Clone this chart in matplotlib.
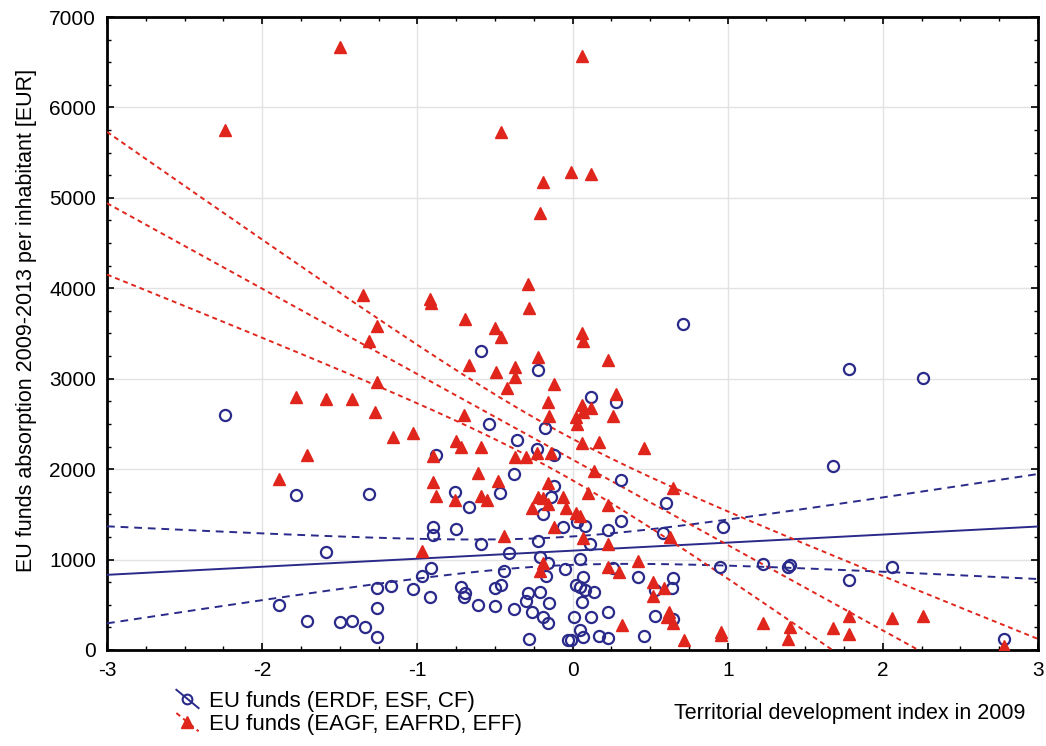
import numpy as np
import matplotlib.pyplot as plt
from matplotlib.ticker import MultipleLocator
from matplotlib.lines import Line2D
from matplotlib.legend_handler import HandlerBase

plt.rcParams['font.family'] = ['Liberation Sans', 'DejaVu Sans']
plt.rcParams['axes.unicode_minus'] = False

# EU funds (ERDF, ESF, CF): territorial development index vs. absorption per inhabitant
tdi_erdf = [0.71, 1.78, 2.26, -0.59, -0.22, -2.24, -0.54, -0.18, -0.36, -0.23, -0.12, -0.88,
            0.12, 0.28, 1.68, -0.38, -0.12, -0.14, -0.76, -0.47, -1.78, -1.31, -0.67, -0.19,
            0.31, 0.60, -0.90, -0.90, -0.75, -0.06, 0.03, 0.08, 0.23, 0.31, 0.97, 0.58,
            -0.59, -0.22, 0.11, -1.59, -0.41, -0.21, -0.16, 0.05, -0.05, 0.26, -0.44, -0.91,
            -0.97, -0.17, 0.95, 1.23, 1.39, 1.40, 2.06, 1.78, 0.07, 0.02, 0.05, 0.08,
            0.14, 0.42, 0.65, 0.53, 0.64, -1.26, -1.17, -1.03, -0.72, -0.69, -0.70, -0.50,
            -0.46, -0.92, -0.29, -0.21, -0.30, -0.15, -0.61, -0.50, -0.38, -0.26, -1.26, -1.89,
            -0.19, -0.16, 0.06, 0.01, 0.12, 0.23, 0.53, 0.65, -1.71, -1.50, -1.42, -1.34,
            -1.26, -0.28, -0.03, 0.05, -0.01, 0.07, 0.17, 0.23, 0.46, 2.78]
eur_erdf = [3605, 3110, 3010, 3305, 3095, 2600, 2500, 2455, 2320, 2225, 2155, 2155,
            2800, 2745, 2035, 1945, 1815, 1690, 1750, 1735, 1715, 1725, 1580, 1505,
            1880, 1625, 1360, 1270, 1340, 1360, 1415, 1370, 1325, 1425, 1360, 1295,
            1170, 1205, 1170, 1085, 1075, 1030, 960, 1005, 895, 905, 875, 905,
            820, 820, 920, 950, 920, 935, 920, 775, 805, 720, 695, 665,
            640, 805, 795, 665, 685, 685, 710, 675, 695, 630, 585, 685,
            720, 585, 630, 640, 540, 520, 500, 485, 455, 420, 465, 500,
            365, 300, 530, 365, 365, 420, 375, 345, 320, 310, 320, 255,
            145, 120, 110, 220, 110, 145, 155, 135, 155, 120]

# EU funds (EAGF, EAFRD, EFF)
tdi_eagf = [-1.50, 0.06, -2.24, -0.46, -0.01, 0.12, -0.19, -0.21, -0.29, -0.28, -1.35, -0.92,
            -0.91, -0.69, -0.50, -0.46, -1.26, -1.31, -0.22, -0.67, -0.49, -0.37, -0.37, -0.42,
            -0.12, -1.26, -1.78, -1.59, -1.42, -1.27, -1.16, -1.03, -1.71, -1.89, -0.70, -0.16,
            -0.15, -0.75, -0.72, -0.59, -0.90, -0.37, -0.30, -0.23, -0.14, -0.61, -0.90, -0.48,
            -0.16, -0.88, -0.76, -0.59, -0.55, -0.22, -0.19, -0.16, -0.06, -0.26, -0.04, -0.12,
            -0.44, -0.97, -0.19, -0.21, 0.06, 0.07, 0.23, 0.28, 0.06, 0.07, 0.12, 0.02,
            0.03, 0.26, 0.06, 0.17, 0.46, 0.14, 0.65, 0.10, 0.23, 0.02, 0.05, 0.07,
            0.23, 0.63, 0.42, 0.23, 0.30, 0.52, 0.59, 0.52, 0.62, 0.61, 0.65, 0.32,
            0.72, 0.96, 0.96, 1.23, 1.40, 1.39, 1.68, 1.78, 1.78, 2.06, 2.26, 2.78]
eur_eagf = [6670, 6570, 5750, 5730, 5290, 5265, 5175, 4835, 4050, 3785, 3925, 3880,
            3840, 3660, 3560, 3460, 3580, 3420, 3240, 3150, 3075, 3130, 3020, 2900,
            2940, 2965, 2800, 2775, 2775, 2630, 2355, 2400, 2155, 1890, 2600, 2745,
            2590, 2310, 2245, 2245, 2145, 2135, 2135, 2180, 2180, 1960, 1860, 1870,
            1845, 1705, 1660, 1705, 1660, 1690, 1680, 1615, 1690, 1570, 1570, 1360,
            1260, 1095, 960, 875, 3505, 3420, 3205, 2830, 2710, 2630, 2675, 2575,
            2500, 2590, 2290, 2300, 2235, 1980, 1790, 1735, 1605, 1515, 1480, 1240,
            1170, 1250, 985, 920, 865, 750, 685, 600, 420, 365, 300, 275,
            110, 200, 165, 300, 255, 120, 245, 375, 175, 355, 375, 45]

BLUE = '#2a2a8a'
RED = '#e0261c'


def fit_band(x, y, xs):
    # linear fit with 95% confidence band for the mean
    x = np.asarray(x, float)
    y = np.asarray(y, float)
    b, a = np.polyfit(x, y, 1)
    n = len(x)
    s = np.sqrt(np.sum((y - (a + b * x)) ** 2) / (n - 2))
    sxx = np.sum((x - x.mean()) ** 2)
    hw = 1.98 * s * np.sqrt(1 / n + (xs - x.mean()) ** 2 / sxx)
    yf = a + b * xs
    return yf, yf - hw, yf + hw


class DiagHandler(HandlerBase):
    # Statistica-style legend key: slanted line with the marker in the middle
    def create_artists(self, legend, orig_handle, xdescent, ydescent,
                       width, height, fontsize, trans):
        line = Line2D([0, width], [height + 1, -1])
        line.update_from(orig_handle)
        line.set_marker('None')
        mk = Line2D([width / 2], [height / 2])
        mk.update_from(orig_handle)
        mk.set_linestyle('None')
        line.set_transform(trans)
        mk.set_transform(trans)
        return [line, mk]


fig = plt.figure(figsize=(10.46, 7.46), dpi=100)
ax = fig.add_axes([0.1023, 0.1287, 0.8901, 0.8485])

xs = np.linspace(-3, 3, 300)

yb, lb, ub = fit_band(tdi_erdf, eur_erdf, xs)
ax.plot(xs, yb, color=BLUE, lw=1.4, zorder=3)
ax.plot(xs, lb, color=BLUE, lw=1.4, ls=(0, (4, 3)), zorder=3)
ax.plot(xs, ub, color=BLUE, lw=1.4, ls=(0, (4, 3)), zorder=3)

yr, lr, ur = fit_band(tdi_eagf, eur_eagf, xs)
for yy in (yr, lr, ur):
    ax.plot(xs, yy, color=RED, lw=1.4, ls=(0, (2.5, 2)), zorder=3)

ax.plot(tdi_erdf, eur_erdf, 'o', ms=8, mfc='none', mec=BLUE, mew=1.6, zorder=4)
ax.plot(tdi_eagf, eur_eagf, '^', ms=8.5, color=RED, mec=RED, zorder=5)

ax.set_xlim(-3, 3)
ax.set_ylim(0, 7000)
ax.xaxis.set_major_locator(MultipleLocator(1))
ax.xaxis.set_minor_locator(MultipleLocator(0.25))
ax.yaxis.set_major_locator(MultipleLocator(1000))
ax.yaxis.set_minor_locator(MultipleLocator(250))
ax.tick_params(which='both', direction='in', top=True, right=True, color='black')
ax.tick_params(which='major', length=5, width=1.2, labelsize=15, pad=8)
ax.tick_params(which='minor', length=3, width=1)
ax.grid(True, which='major', color='#e2e2e2', lw=1)
ax.set_axisbelow(True)
for sp in ax.spines.values():
    sp.set_linewidth(2)

ax.set_ylabel('EU funds absorption 2009-2013 per inhabitant [EUR]', fontsize=15.5)
ax.yaxis.set_label_coords(-0.075, 0.52)
ax.set_xlabel('Territorial development index in 2009', fontsize=15.5, loc='right')
ax.xaxis.set_label_coords(0.986, -0.084)

handles = [
    Line2D([], [], color=BLUE, lw=1.4, marker='o', ms=7, mfc='none', mec=BLUE, mew=1.5),
    Line2D([], [], color=RED, lw=1.4, ls=(0, (2.5, 2)), marker='^', ms=8, mfc=RED, mec=RED),
]
fig.legend(handles, ['EU funds (ERDF, ESF, CF)', 'EU funds (EAGF, EAFRD, EFF)'],
           loc='upper left', bbox_to_anchor=(0.158, 0.089), frameon=False,
           fontsize=16, handlelength=1.0, handletextpad=0.45, labelspacing=0.1,
           borderpad=0, handler_map={Line2D: DiagHandler()})

fig.savefig('out.png', dpi=100)
